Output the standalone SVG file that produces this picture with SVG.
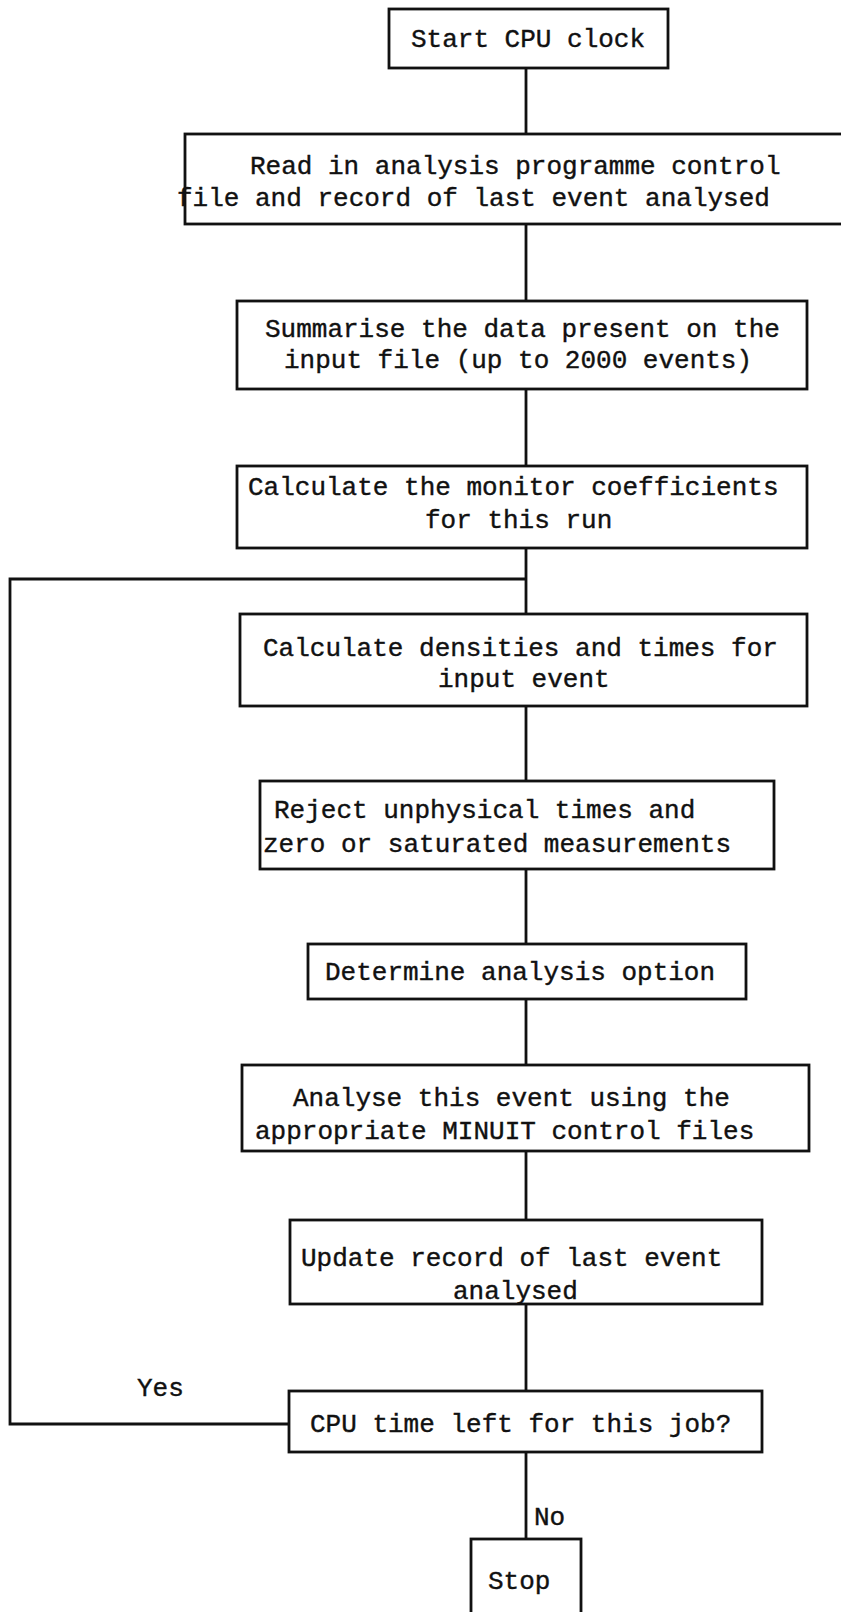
<svg xmlns="http://www.w3.org/2000/svg" width="841" height="1612" viewBox="0 0 841 1612">
<style>
.b{fill:#fff;stroke:#111;stroke-width:2.8}
.c{fill:none;stroke:#111;stroke-width:2.8}
text{font-family:"Liberation Mono","Courier New",monospace;font-size:26px;fill:#111;stroke:#111;stroke-width:0.4}
</style>
<rect width="841" height="1612" fill="#fff"/>
<g id="connectors">
<line class="c" x1="526" y1="68" x2="526" y2="134"/>
<line class="c" x1="526" y1="224" x2="526" y2="301"/>
<line class="c" x1="526" y1="389" x2="526" y2="466"/>
<line class="c" x1="526" y1="548" x2="526" y2="614"/>
<line class="c" x1="526" y1="706" x2="526" y2="781"/>
<line class="c" x1="526" y1="869" x2="526" y2="944"/>
<line class="c" x1="526" y1="999" x2="526" y2="1065"/>
<line class="c" x1="526" y1="1151" x2="526" y2="1220"/>
<line class="c" x1="526" y1="1304" x2="526" y2="1391"/>
<line class="c" x1="526" y1="1452" x2="526" y2="1539"/>
<polyline class="c" points="289,1424 10,1424 10,579 526,579"/>
<text x="137" y="1396">Yes</text>
<text x="534" y="1525">No</text>
</g>
<g id="n1"><rect class="b" x="389" y="9" width="279" height="59"/><text x="411" y="47">Start CPU clock</text></g>
<g id="n2"><rect class="b" x="185" y="134" width="670" height="90"/><text x="250" y="174">Read in analysis programme control</text><text x="177" y="206">file and record of last event analysed</text></g>
<g id="n3"><rect class="b" x="237" y="301" width="570" height="88"/><text x="265" y="337">Summarise the data present on the</text><text x="284" y="368">input file (up to 2000 events)</text></g>
<g id="n4"><rect class="b" x="237" y="466" width="570" height="82"/><text x="248" y="495">Calculate the monitor coefficients</text><text x="425" y="528">for this run</text></g>
<g id="n5"><rect class="b" x="240" y="614" width="567" height="92"/><text x="263" y="656">Calculate densities and times for</text><text x="438" y="687">input event</text></g>
<g id="n6"><rect class="b" x="260" y="781" width="514" height="88"/><text x="274" y="818">Reject unphysical times and</text><text x="263" y="852">zero or saturated measurements</text></g>
<g id="n7"><rect class="b" x="308" y="944" width="438" height="55"/><text x="325" y="980">Determine analysis option</text></g>
<g id="n8"><rect class="b" x="242" y="1065" width="567" height="86"/><text x="293" y="1106">Analyse this event using the</text><text x="255" y="1139">appropriate MINUIT control files</text></g>
<g id="n9"><rect class="b" x="290" y="1220" width="472" height="84"/><text x="301" y="1266">Update record of last event</text><text x="453" y="1299">analysed</text></g>
<g id="n10"><rect class="b" x="289" y="1391" width="473" height="61"/><text x="310" y="1432">CPU time left for this job?</text></g>
<g id="n11"><rect class="b" x="471" y="1539" width="110" height="80"/><text x="488" y="1589">Stop</text></g>
</svg>
